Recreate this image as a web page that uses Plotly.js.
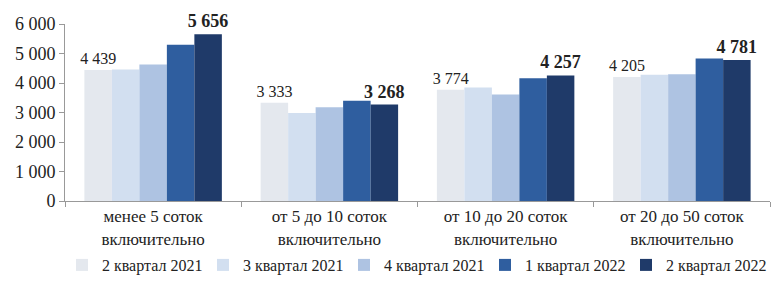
<!DOCTYPE html>
<html><head><meta charset="utf-8">
<script src="https://cdn.plot.ly/plotly-3.0.1.min.js"></script>
<style>html,body{margin:0;padding:0;background:#fff}</style>
</head><body><div id="chart" style="width:775px;height:282px"></div>
<script>
const categories = ["менее 5 соток<br>включительно", "от 5 до 10 соток<br>включительно", "от 10 до 20 соток<br>включительно", "от 20 до 50 соток<br>включительно"];
const seriesNames = ["2 квартал 2021", "3 квартал 2021", "4 квартал 2021", "1 квартал 2022", "2 квартал 2022"];
const q2_2021 = [4439, 3333, 3774, 4205];
const q3_2021 = [4460, 2980, 3850, 4280];
const q4_2021 = [4630, 3180, 3610, 4300];
const q1_2022 = [5300, 3400, 4160, 4830];
const q2_2022 = [5656, 3268, 4257, 4781];
const yTicks = [0, 1000, 2000, 3000, 4000, 5000, 6000];

const colors = ["#e4e8ee", "#d2dff0", "#aec3e2", "#2f5e9f", "#1f3a69"];
const allSeries = [q2_2021, q3_2021, q4_2021, q1_2022, q2_2022];
const fontFam = '"Liberation Serif", "Times New Roman", serif';

const traces = allSeries.map((vals, i) => {
  const t = {
    type: 'bar', x: categories, y: vals, name: seriesNames[i],
    marker: {color: colors[i], line: {width: 0}},
    hoverinfo: 'none'
  };
  if (i === 0 || i === 4) {
    t.texttemplate = '%{y:,d}';
    t.textposition = 'outside';
    t.constraintext = 'none';
    t.cliponaxis = false;
    t.textfont = {family: fontFam, size: i === 4 ? 18 : 16, color: '#222', weight: i === 4 ? 'bold' : 'normal'};
  }
  return t;
});

const layout = {
  width: 775, height: 282,
  margin: {l: 65, r: 5, t: 24, b: 81, autoexpand: false},
  paper_bgcolor: '#fff', plot_bgcolor: '#fff',
  separators: ', ',
  font: {family: fontFam, size: 16, color: '#222'},
  barmode: 'group', bargap: 0.22, bargroupgap: 0,
  xaxis: {
    type: 'category', showgrid: false, showline: true, linecolor: '#999', linewidth: 1,
    ticks: 'outside', tickson: 'boundaries', ticklen: 5, tickcolor: '#999',
    tickfont: {family: fontFam, size: 17, color: '#222'}
  },
  yaxis: {
    range: [0, 6000], tickvals: yTicks, tickformat: ',d', showgrid: false, zeroline: false,
    showline: true, linecolor: '#999', linewidth: 1, ticks: 'outside', ticklen: 5, tickcolor: '#999',
    tickfont: {family: fontFam, size: 18, color: '#222'}
  },
  showlegend: true,
  legend: {orientation: 'h', xref: 'container', x: 0.08, xanchor: 'left', yref: 'container', y: -0.058, yanchor: 'bottom',
    font: {family: fontFam, size: 16, color: '#222'}, itemwidth: 30, entrywidth: 96, entrywidthmode: 'pixels', traceorder: 'normal'}
};

Plotly.newPlot('chart', traces, layout, {staticPlot: true});
</script></body></html>
